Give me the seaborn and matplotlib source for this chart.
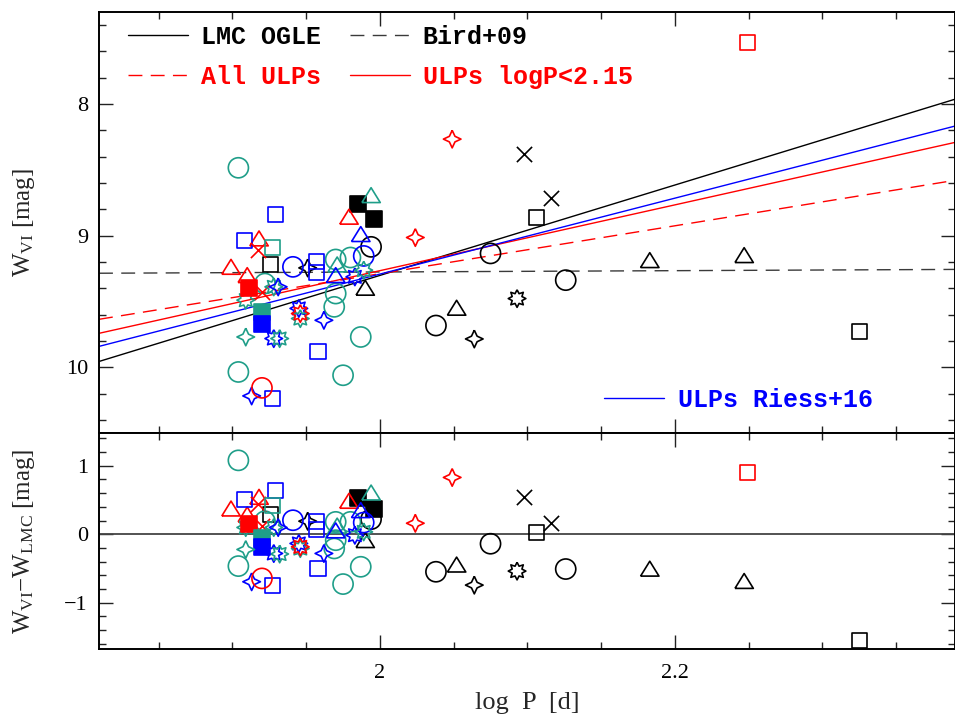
import matplotlib
matplotlib.use("Agg")

import matplotlib.pyplot as plt
import numpy as np
import pandas as pd
import seaborn as sns
from matplotlib.lines import Line2D
from matplotlib.ticker import FuncFormatter, MultipleLocator

# ---- data ----
log_p = [2.049, 2.098, 2.116, 2.106, 2.024, 2.075, 2.183, 2.247, 2.126, 2.093,
         2.052, 2.038, 2.064, 2.325, 2.249,
         1.904, 1.985, 1.996, 1.994, 1.979, 1.929, 1.987, 1.994, 1.989, 1.908,
         1.918, 1.917, 1.927, 1.926, 1.899, 1.941, 1.951, 1.957, 1.957, 1.970,
         1.980, 1.970, 1.969, 1.971, 1.970, 1.983, 1.989, 1.990, 1.910, 1.911,
         1.909, 1.922, 1.920, 1.928, 1.931, 1.920, 1.920, 1.945, 1.946, 1.946,
         1.962, 1.909, 1.928, 1.932, 1.958, 1.987, 1.904, 1.975, 1.920, 1.913,
         1.927]
w_vi = [8.266, 8.380, 8.713, 8.862, 9.014, 9.135, 9.199, 9.161, 9.338, 9.478,
        9.561, 9.683, 9.785, 9.732, 7.529,
        8.484, 8.763, 8.875, 8.705, 8.869, 8.839, 9.001, 9.085, 9.154, 9.040,
        9.034, 9.110, 9.090, 9.217, 9.250, 9.237, 9.245, 9.199, 9.283, 9.181,
        9.166, 9.440, 9.541, 9.232, 9.313, 9.313, 9.262, 9.409, 9.313, 9.401,
        9.490, 9.364, 9.427, 9.389, 9.389, 9.579, 9.668, 9.553, 9.592, 9.630,
        9.643, 9.770, 9.782, 9.782, 9.884, 9.770, 10.036, 10.061, 10.157, 10.218,
        10.238]
dw_lmc = [0.83, 0.55, 0.16, 0.03, 0.16, -0.14, -0.53, -0.71, -0.51, -0.54,
          -0.47, -0.55, -0.745, -1.55, 0.90,
          1.08, 0.535, 0.375, 0.584, 0.463, 0.642, 0.326, 0.22, 0.17, 0.511,
          0.521, 0.448, 0.414, 0.292, 0.350, 0.204, 0.19, 0.18, 0.069, 0.18,
          0.18, -0.088, -0.209, 0.10, 0.03, -0.015, 0.034, -0.112, 0.263, 0.156,
          0.098, 0.19, 0.117, 0.098, 0.098, -0.054, -0.185, -0.136, -0.185, -0.21,
          -0.282, -0.224, -0.282, -0.29, -0.50, -0.477, -0.467, -0.73, -0.647, -0.696,
          -0.745]
sample = list("BAAABAAAAAAAAAB"
              "DAADBCCACC" "BBDABCACCD" "DDDDCCDABB" "DDBDCDCCBD" "CDCDCDDDBC" "C")
shape = ["star4", "cross", "cross", "square", "star4", "circle", "tri", "tri",
         "circle", "star8", "tri", "circle", "star4", "square", "square",
         "circle", "fsquare", "fsquare", "tri", "tri", "square", "tri", "circle",
         "circle", "square", "tri", "cross", "square", "square", "tri", "circle",
         "star4", "square", "square", "circle", "circle", "circle", "circle",
         "tri", "tri", "star8", "star8", "tri", "tri", "fsquare", "star8",
         "circle", "cross", "star8", "star4", "fsquare", "fsquare", "star8",
         "star8", "star8", "star4", "star4", "star8", "star8", "square",
         "circle", "circle", "circle", "circle", "star4", "square"]

# period-luminosity relations: W at logP = 2 and slope
rel_names = ["LMC OGLE", "Bird+09", "All ULPs", "ULPs logP<2.15", "ULPs Riess+16"]
rel_zp = [9.302, 9.276, 9.289, 9.266, 9.292]
rel_slope = [-3.434, -0.05, -1.82, -2.50, -2.885]

XLIM = (1.8095, 2.39)

# ---- style ----
sns.set_style("ticks")
plt.rcParams["font.family"] = ["Liberation Serif", "DejaVu Serif"]
plt.rcParams["mathtext.fontset"] = "custom"
plt.rcParams["mathtext.rm"] = "Liberation Serif"
plt.rcParams["mathtext.it"] = "Liberation Serif:italic"

TEAL = "#1f9e89"
sample_colours = {"A": "black", "B": "#ff0000", "C": "#0000ff", "D": TEAL}


def star(n, inner):
    k = np.arange(2 * n + 1)
    ang = k * np.pi / n + np.pi / 2
    rad = np.where(k % 2 == 0, 1.0, inner)
    return np.column_stack([rad * np.cos(ang), rad * np.sin(ang)])


tri_verts = np.array([(-1, -0.62), (1, -0.62), (0, 1.0), (-1, -0.62)])
markers = {
    "circle": ("o", 210, False),
    "square": ("s", 117, False),
    "fsquare": ("s", 117, True),
    "tri": (tri_verts, 175, False),
    "cross": ("x", 120, False),
    "star4": (star(4, 0.45), 160, False),
    "star8": (star(8, 0.6), 160, False),
}
rel_colours = {"LMC OGLE": "black", "Bird+09": "#3a3a3a", "All ULPs": "#ff0000",
               "ULPs logP<2.15": "#ff0000", "ULPs Riess+16": "#0000ff"}
rel_dashes = {"LMC OGLE": "", "Bird+09": (10, 6), "All ULPs": (10, 6),
              "ULPs logP<2.15": "", "ULPs Riess+16": ""}

df = pd.DataFrame({"logP": log_p, "W": w_vi, "dW": dw_lmc,
                   "sample": sample, "shape": shape})

xs = np.array(XLIM)
rel_df = pd.concat([
    pd.DataFrame({"logP": xs, "W": zp + sl * (xs - 2.0), "relation": name})
    for name, zp, sl in zip(rel_names, rel_zp, rel_slope)
])

fig = plt.figure(figsize=(9.55, 7.2), dpi=100)
ax_top = fig.add_axes([0.1037, 0.3986, 0.8963, 0.5847])
ax_bot = fig.add_axes([0.1037, 0.0986, 0.8963, 0.3])

sns.lineplot(data=rel_df, x="logP", y="W", hue="relation", style="relation",
             palette=rel_colours, dashes=rel_dashes, linewidth=1.0,
             legend=False, ax=ax_top, zorder=2)
ax_bot.axhline(0, color="#444444", lw=1.3, zorder=2)


def draw_points(ax, ycol):
    order = list(dict.fromkeys(zip(df["sample"], df["shape"])))
    for smp, shp in order:
        sub = df[(df["sample"] == smp) & (df["shape"] == shp)]
        col = sample_colours[smp]
        mk, size, filled = markers[shp]
        kw = dict(marker=mk, s=size, linewidth=1.2, legend=False, zorder=3)
        if shp == "cross":
            kw["color"] = col
        else:
            kw.update(color=col, facecolor=col if filled else "none", edgecolor=col)
        sns.scatterplot(data=sub, x="logP", y=ycol, ax=ax, **kw)


draw_points(ax_top, "W")
draw_points(ax_bot, "dW")

fmt = FuncFormatter(lambda v, _: f"{v:g}".replace("-", "\u2212"))
for ax in (ax_top, ax_bot):
    ax.set_xlim(*XLIM)
    ax.xaxis.set_major_locator(MultipleLocator(0.2))
    ax.xaxis.set_minor_locator(MultipleLocator(0.05))
    ax.yaxis.set_major_locator(MultipleLocator(1))
    ax.yaxis.set_minor_locator(MultipleLocator(0.2))
    ax.xaxis.set_major_formatter(fmt)
    ax.yaxis.set_major_formatter(fmt)
    ax.tick_params(which="both", direction="in", top=True, right=True,
                   width=1.0, colors="#222222", labelcolor="black", labelsize=16, pad=8)
    ax.tick_params(which="major", length=10)
    ax.tick_params(which="minor", length=5)
    for sp in ax.spines.values():
        sp.set_linewidth(1.4)
        sp.set_color("black")

ax_top.set_ylim(10.5, 7.3)
ax_bot.set_ylim(-1.68, 1.48)
ax_top.tick_params(labelbottom=False)
ax_bot.tick_params(axis="x", pad=11)

ax_top.set_xlabel("")
ax_top.set_ylabel("W$_{\\rm VI}$ [mag]", fontsize=18)
ax_bot.set_ylabel("W$_{\\rm VI}$\u2212W$_{\\rm LMC}$ [mag]", fontsize=18)
ax_bot.set_xlabel("log  P  [d]", fontsize=19, labelpad=6)
for ax in (ax_top, ax_bot):
    ax.yaxis.set_label_coords(-0.072, 0.5)

leg_font = {"family": "Liberation Mono", "size": 18, "weight": "bold"}


def handle(name):
    d = rel_dashes[name]
    ls = "-" if d == "" else (0, d)
    return Line2D([], [], color=rel_colours[name], lw=1.0, linestyle=ls)


order = ["LMC OGLE", "All ULPs", "Bird+09", "ULPs logP<2.15"]
leg1 = ax_top.legend([handle(n) for n in order], order, loc="upper left",
                     bbox_to_anchor=(0.034, 0.969), ncol=2, frameon=False,
                     prop=leg_font, handlelength=2.4, handletextpad=0.5,
                     columnspacing=1.18, labelspacing=0.62, borderpad=0,
                     borderaxespad=0,
                     labelcolor=[rel_colours[n] if n != "Bird+09" else "black" for n in order])
ax_top.add_artist(leg1)
ax_top.legend([handle("ULPs Riess+16")], ["ULPs Riess+16"], loc="lower left",
              bbox_to_anchor=(0.59, 0.05), frameon=False, prop=leg_font,
              handlelength=2.4, handletextpad=0.55, borderpad=0, borderaxespad=0,
              labelcolor="#0000ff")

fig.savefig("out.png", dpi=100)
